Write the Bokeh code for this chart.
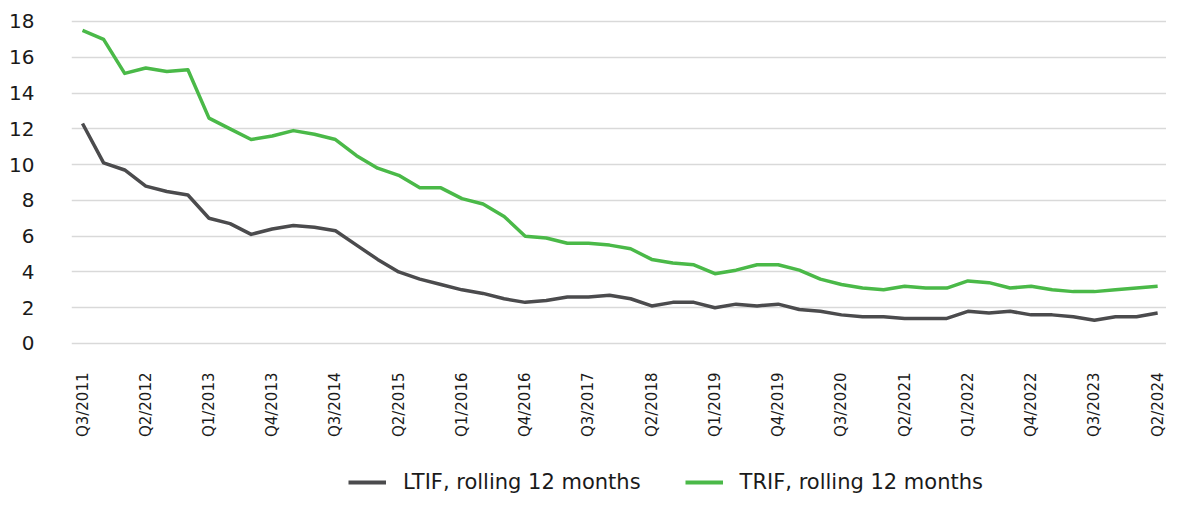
import numpy as np
from bokeh.plotting import figure
from bokeh.layouts import column
from bokeh.models import Range1d, FixedTicker, Legend, LegendItem, ColumnDataSource
from bokeh.embed import file_html
from bokeh.resources import INLINE

quarters = []
for y in range(2011, 2025):
    for q in range(1, 5):
        if (y == 2011 and q < 3) or (y == 2024 and q > 2):
            continue
        quarters.append(f"Q{q}/{y}")

ltif = [12.3, 10.1, 9.7, 8.8, 8.5, 8.3, 7.0, 6.7, 6.1, 6.4, 6.6, 6.5, 6.3, 5.5, 4.7,
        4.0, 3.6, 3.3, 3.0, 2.8, 2.5, 2.3, 2.4, 2.6, 2.6, 2.7, 2.5, 2.1, 2.3, 2.3,
        2.0, 2.2, 2.1, 2.2, 1.9, 1.8, 1.6, 1.5, 1.5, 1.4, 1.4, 1.4, 1.8, 1.7, 1.8,
        1.6, 1.6, 1.5, 1.3, 1.5, 1.5, 1.7]
trif = [17.5, 17.0, 15.1, 15.4, 15.2, 15.3, 12.6, 12.0, 11.4, 11.6, 11.9, 11.7, 11.4, 10.5, 9.8,
        9.4, 8.7, 8.7, 8.1, 7.8, 7.1, 6.0, 5.9, 5.6, 5.6, 5.5, 5.3, 4.7, 4.5, 4.4,
        3.9, 4.1, 4.4, 4.4, 4.1, 3.6, 3.3, 3.1, 3.0, 3.2, 3.1, 3.1, 3.5, 3.4, 3.1,
        3.2, 3.0, 2.9, 2.9, 3.0, 3.1, 3.2]
series_names = ["LTIF, rolling 12 months", "TRIF, rolling 12 months"]
series_colors = ["#4b4b4d", "#4ab948"]

x = list(range(len(quarters)))
src = ColumnDataSource(dict(x=x, ltif=ltif, trif=trif))

FONT = "DejaVu Sans"
p = figure(frame_width=1095, frame_height=333, output_backend="svg", toolbar_location=None,
           x_range=Range1d(-0.522, 51.42), y_range=Range1d(-0.112, 18.503),
           min_border_left=71, min_border_right=0, min_border_top=12, min_border_bottom=0)
p.outline_line_color = None
p.background_fill_color = "white"

p.line("x", "ltif", source=src, line_color=series_colors[0], line_width=3.5, line_join="round")
p.line("x", "trif", source=src, line_color=series_colors[1], line_width=3.5, line_join="round")

p.xgrid.grid_line_color = None
p.ygrid.grid_line_color = "#d9d9d9"
p.ygrid.grid_line_width = 1.5
p.yaxis.ticker = FixedTicker(ticks=list(range(0, 19, 2)))
p.yaxis.axis_line_color = None
p.yaxis.major_tick_line_color = None
p.yaxis.minor_tick_line_color = None
p.yaxis.major_label_text_font = FONT
p.yaxis.major_label_text_font_size = "20px"
p.yaxis.major_label_text_color = "#1a1a1a"
p.yaxis.major_label_standoff = 31

tick_idx = list(range(0, len(quarters), 3))
p.xaxis.ticker = FixedTicker(ticks=tick_idx)
p.xaxis.major_label_overrides = {i: quarters[i] for i in tick_idx}
p.xaxis.major_label_orientation = np.pi / 2
p.xaxis.axis_line_color = None
p.xaxis.major_tick_line_color = None
p.xaxis.minor_tick_line_color = None
p.xaxis.major_label_text_font = FONT
p.xaxis.major_label_text_font_size = "15px"
p.xaxis.major_label_text_color = "#1a1a1a"
p.xaxis.major_label_standoff = 21
p.xaxis.axis_label = " "
p.xaxis.axis_label_text_font_size = "10px"
p.xaxis.axis_label_standoff = 10

# separate legend strip (its frame covers the whole strip, so the legend is never clipped)
lg = figure(width=1166, height=34, output_backend="svg", toolbar_location=None,
            x_range=Range1d(1000, 1001), y_range=Range1d(1000, 1001),
            x_axis_location=None, y_axis_location=None,
            min_border_left=0, min_border_right=0, min_border_top=0, min_border_bottom=0)
lg.outline_line_color = None
lg.xgrid.grid_line_color = None
lg.ygrid.grid_line_color = None
g1 = lg.line("x", "ltif", source=src, line_color=series_colors[0], line_width=4)
g2 = lg.line("x", "trif", source=src, line_color=series_colors[1], line_width=4)

legend = Legend(items=[LegendItem(label=series_names[0], renderers=[g1]),
                       LegendItem(label=series_names[1], renderers=[g2])],
                orientation="horizontal", location=(277, 4),
                label_text_font=FONT, label_text_font_size="21px", label_text_color="#1a1a1a",
                glyph_width=38, glyph_height=20, label_standoff=17, spacing=44,
                padding=0, margin=0, border_line_color=None, background_fill_alpha=0)
lg.add_layout(legend, "center")

layout = column(p, lg, spacing=0)
open("out.html", "w").write(file_html(layout, INLINE))
